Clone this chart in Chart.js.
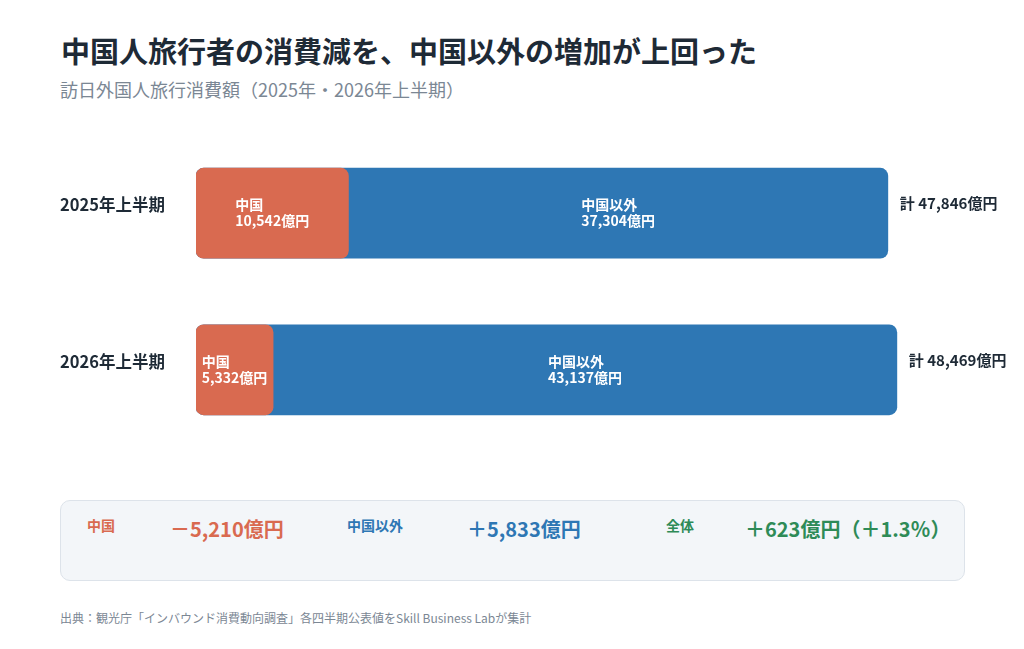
<!DOCTYPE html>
<html lang="ja">
<head>
<meta charset="utf-8">
<script src="https://cdn.jsdelivr.net/npm/chart.js@4.4.1/dist/chart.umd.min.js"></script>
<style>
  html, body { margin:0; padding:0; background:#ffffff; }
  body { width:1024px; height:649px; position:relative; overflow:hidden;
         font-family:"Noto Sans CJK JP","Noto Sans",sans-serif; }
  .abs { position:absolute; line-height:1; white-space:nowrap; }
  #title { left:61px; top:36px; font-size:29px; font-weight:700; color:#1e2a36; }
  #subtitle { left:60px; top:80px; font-size:18px; font-weight:400; color:#7b8794; }
  #chartWrap { position:absolute; left:60px; top:124.5px; width:964px; height:333px; }
  #summary { position:absolute; left:60px; top:500px; width:903px; height:79px;
             background:#f3f6f9; border:1px solid #dde3ea; border-radius:10px; }
  .lab { font-size:14px; font-weight:700; }
  .val { font-size:20px; font-weight:700; }
  #foot { left:60px; top:612px; font-size:12px; color:#7b8794; }
</style>
</head>
<body>
<div id="title" class="abs">中国人旅行者の消費減を、中国以外の増加が上回った</div>
<div id="subtitle" class="abs">訪日外国人旅行消費額（2025年・2026年上半期）</div>
<div id="chartWrap"><canvas id="c"></canvas></div>
<div id="summary"></div>
<div id="foot" class="abs">出典：観光庁「インバウンド消費動向調査」各四半期公表値をSkill Business Labが集計</div>
<script>
// ---- data ----
const categories = ['2025年上半期', '2026年上半期'];
const segmentNames = ['中国', '中国以外'];
const chinaValues = [10542, 5332];
const otherValues = [37304, 43137];
const totalValues = [47846, 48469];
const xMin = 0;
const xMax = 50000;
const summaryLabels = ['中国', '中国以外', '全体'];
const summaryTexts = ['－5,210億円', '＋5,833億円', '＋623億円（＋1.3％）'];

// ---- style ----
const chinaColor = '#d96a50';
const otherColor = '#2e77b4';
const totalColor = '#2e8b57';
const darkText = '#1e2a36';
const fontFamily = '"Noto Sans CJK JP","Noto Sans",sans-serif';

const fmt = v => v.toLocaleString('en-US') + '億円';

// summary box
const summary = document.getElementById('summary');
const sumColors = [chinaColor, otherColor, totalColor];
const labX = [26, 286, 605];
const valX = [109, 406, 684];
summaryLabels.forEach((t, i) => {
  const l = document.createElement('div');
  l.className = 'abs lab'; l.textContent = t;
  l.style.left = labX[i] + 'px'; l.style.top = '17px'; l.style.color = sumColors[i];
  summary.appendChild(l);
  const v = document.createElement('div');
  v.className = 'abs val'; v.textContent = summaryTexts[i];
  v.style.left = valX[i] + 'px'; v.style.top = '18px'; v.style.color = sumColors[i];
  summary.appendChild(v);
});

Chart.defaults.font.family = fontFamily;

const labelPlugin = {
  id: 'barLabels',
  afterDatasetsDraw(chart) {
    const ctx = chart.ctx;
    const chinaMeta = chart.getDatasetMeta(0);
    const totalMeta = chart.getDatasetMeta(1);
    ctx.save();
    ctx.textBaseline = 'middle';
    categories.forEach((cat, i) => {
      const cEl = chinaMeta.data[i];
      const tEl = totalMeta.data[i];
      const y = cEl.y;
      const drawBlock = (lines, cx) => {
        ctx.font = 'bold 14px ' + fontFamily;
        ctx.fillStyle = '#ffffff';
        ctx.textAlign = 'left';
        const w = Math.max(...lines.map(s => ctx.measureText(s).width));
        const x0 = cx - w / 2;
        ctx.fillText(lines[0], x0, y - 8.5);
        ctx.fillText(lines[1], x0, y + 7.5);
      };
      drawBlock([segmentNames[0], fmt(chinaValues[i])], (cEl.base + cEl.x) / 2);
      drawBlock([segmentNames[1], fmt(otherValues[i])], (cEl.x + tEl.x) / 2);
      ctx.font = 'bold 15px ' + fontFamily;
      ctx.fillStyle = darkText;
      ctx.textAlign = 'left';
      ctx.fillText('計 ' + fmt(totalValues[i]), tEl.x + 12, y - 10);
    });
    ctx.restore();
  }
};

new Chart(document.getElementById('c'), {
  type: 'bar',
  data: {
    labels: categories,
    datasets: [
      { label: segmentNames[0], data: chinaValues, backgroundColor: chinaColor,
        borderRadius: 8, borderSkipped: false, grouped: false, barThickness: 90 },
      { label: '計', data: totalValues, backgroundColor: otherColor,
        borderRadius: 8, borderSkipped: false, grouped: false, barThickness: 90 }
    ]
  },
  options: {
    indexAxis: 'y',
    responsive: true,
    maintainAspectRatio: false,
    animation: false,
    events: [],
    layout: { padding: { left: 0, right: 105, top: 0, bottom: 0 } },
    plugins: { legend: { display: false }, tooltip: { enabled: false } },
    scales: {
      x: { display: false, min: xMin, max: xMax },
      y: {
        grid: { display: false },
        border: { display: false },
        ticks: { crossAlign: 'far', color: darkText, padding: 0, labelOffset: -8,
                 font: { size: 16.5, weight: 'bold', family: fontFamily } },
        afterFit(scale) { scale.width = 136; }
      }
    }
  },
  plugins: [labelPlugin]
});
</script>
</body>
</html>
